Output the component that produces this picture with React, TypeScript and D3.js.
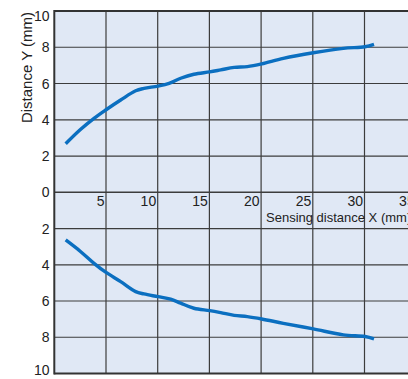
import React from "react";
import * as d3 from "d3";

const xTicks = [5, 10, 15, 20, 25, 30, 35];
const yTopTicks = [0, 2, 4, 6, 8, 10];
const yBottomTicks = [2, 4, 6, 8, 10];

const topX = [1.1, 2.5, 3.84, 4.97, 6.42, 7.87, 8.67, 10.03, 11.1, 12.22, 13.5, 15.03, 16.09, 17.4, 18.67, 20.06, 22.15, 25.05, 27.95, 30.05, 30.92];
const topY = [2.68, 3.45, 4.08, 4.54, 5.09, 5.6, 5.73, 5.86, 6.01, 6.29, 6.51, 6.64, 6.75, 6.89, 6.93, 7.08, 7.39, 7.7, 7.94, 8.03, 8.16];

const botX = [1.1, 2.5, 3.84, 4.97, 6.42, 7.87, 8.67, 10.03, 11.25, 12.22, 13.5, 15.03, 16.09, 17.4, 18.67, 20.06, 22.15, 25.05, 27.95, 30.05, 30.92];
const botY = [2.63, 3.25, 3.92, 4.41, 4.93, 5.48, 5.61, 5.76, 5.9, 6.12, 6.4, 6.53, 6.64, 6.79, 6.86, 6.99, 7.23, 7.54, 7.87, 7.96, 8.09];

const W = 408;
const H = 379;

export default function App() {
  const x = d3.scaleLinear().domain([0, 35]).range([54.3, 416.2]);
  const yTop = d3.scaleLinear().domain([0, 10]).range([192.3, 11]);
  const yBot = d3.scaleLinear().domain([0, 10]).range([192.3, 373.5]);

  const lineTop = d3
    .line<number>()
    .x((_, i) => x(topX[i]))
    .y((d) => yTop(d))
    .curve(d3.curveCatmullRom.alpha(0.5));
  const lineBot = d3
    .line<number>()
    .x((_, i) => x(botX[i]))
    .y((d) => yBot(d))
    .curve(d3.curveCatmullRom.alpha(0.5));

  const font = "Liberation Sans, Arial, Helvetica, sans-serif";
  const gridColor = "#3c3c3c";

  return (
    <svg
      width={W}
      height={H}
      style={{ position: "absolute", left: 0, top: 0, background: "#fff" }}
      fontFamily={font}
    >
      <rect x={x(0)} y={yTop(10)} width={x(35) - x(0)} height={yBot(10) - yTop(10)} fill="#e0e8f5" />
      {xTicks.map((t) => (
        <line key={"vx" + t} x1={x(t)} x2={x(t)} y1={yTop(10)} y2={yBot(10)} stroke={gridColor} strokeWidth={1.2} />
      ))}
      {yTopTicks.map((t) => (
        <line key={"ht" + t} x1={x(0)} x2={x(35)} y1={yTop(t)} y2={yTop(t)} stroke={gridColor} strokeWidth={t === 0 ? 1.6 : 1.2} />
      ))}
      {yBottomTicks.map((t) => (
        <line key={"hb" + t} x1={x(0)} x2={x(35)} y1={yBot(t)} y2={yBot(t)} stroke={gridColor} strokeWidth={1.2} />
      ))}
      {/* frame */}
      <line x1={x(0)} x2={x(35)} y1={yTop(10)} y2={yTop(10)} stroke="#333" strokeWidth={2} />
      <line x1={x(0)} x2={x(35)} y1={yBot(10)} y2={yBot(10)} stroke="#333" strokeWidth={2} />
      <line x1={x(0)} x2={x(0)} y1={yTop(10) - 1} y2={yBot(10) + 1} stroke="#333" strokeWidth={2} />

      {/* curves */}
      <path d={lineTop(topY) || ""} fill="none" stroke="#0b6fc0" strokeWidth={3.4} strokeLinecap="butt" />
      <path d={lineBot(botY) || ""} fill="none" stroke="#0b6fc0" strokeWidth={3.4} strokeLinecap="butt" />

      {/* y tick labels */}
      {yTopTicks.map((t) => (
        <text
          key={"lt" + t}
          x={49.5}
          y={t === 10 ? yTop(t) + 10 : yTop(t) + 5}
          textAnchor="end"
          fontSize={14}
          fill="#222"
        >
          {t}
        </text>
      ))}
      {yBottomTicks.map((t) => (
        <text
          key={"lb" + t}
          x={49.5}
          y={t === 10 ? yBot(t) + 1.5 : yBot(t) + 5}
          textAnchor="end"
          fontSize={14}
          fill="#222"
        >
          {t}
        </text>
      ))}
      {/* x tick labels */}
      {xTicks.map((t) => (
        <text key={"xl" + t} x={x(t) - 1.5} y={206} textAnchor="end" fontSize={14} fill="#222">
          {t}
        </text>
      ))}
      <text x={266} y={221.5} fontSize={13} fill="#222">
        Sensing distance X (mm)
      </text>
      <text
        transform={`translate(31.5,67.5) rotate(-90)`}
        textAnchor="middle"
        fontSize={15}
        fill="#222"
      >
        Distance Y (mm)
      </text>
    </svg>
  );
}
